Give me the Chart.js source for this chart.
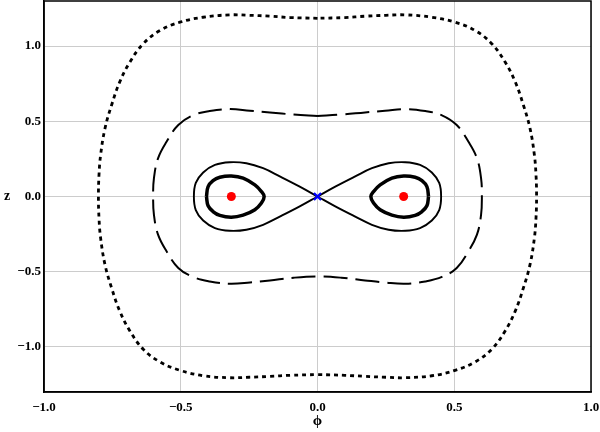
<!DOCTYPE html>
<html>
<head>
<meta charset="utf-8">
<script src="https://cdn.jsdelivr.net/npm/chart.js@4.4.0/dist/chart.umd.min.js"></script>
<style>
  body { margin: 0; background: #fff; }
  #wrap { width: 600px; height: 432px; position: relative; }
</style>
</head>
<body>
<div id="wrap"><canvas id="phaseChart"></canvas></div>
<script>
// Phase portrait: phi (x) and z (y) for each contour

// outer dotted orbit
const dottedPhi = [0, -0.10, -0.174, -0.25, -0.321, -0.418, -0.503, -0.576, -0.637, -0.686, -0.723, -0.753, -0.777, -0.793, -0.799, -0.801,
    -0.799, -0.793, -0.777, -0.753, -0.723, -0.686, -0.637, -0.576, -0.503, -0.418, -0.321, -0.25, -0.174, -0.10, 0,
    0.10, 0.174, 0.25, 0.321, 0.418, 0.503, 0.576, 0.637, 0.686, 0.723, 0.753, 0.777, 0.793, 0.799, 0.801,
    0.799, 0.793, 0.777, 0.753, 0.723, 0.686, 0.637, 0.576, 0.503, 0.418, 0.321, 0.25, 0.174, 0.10, 0];
const dottedZ = [1.185, 1.190, 1.199, 1.205, 1.208, 1.192, 1.159, 1.104, 1.016, 0.894, 0.762, 0.607, 0.453, 0.276, 0.14, 0,
    -0.14, -0.276, -0.453, -0.607, -0.762, -0.894, -1.016, -1.100, -1.156, -1.192, -1.205, -1.202, -1.196, -1.189, -1.185,
    -1.189, -1.196, -1.202, -1.205, -1.192, -1.156, -1.100, -1.016, -0.894, -0.762, -0.607, -0.453, -0.276, -0.14, 0,
    0.14, 0.276, 0.453, 0.607, 0.762, 0.894, 1.016, 1.104, 1.159, 1.192, 1.208, 1.205, 1.199, 1.190, 1.185];

// middle long-dashed orbit
const dashedPhi = [0, -0.087, -0.174, -0.247, -0.321, -0.394, -0.455, -0.509, -0.552, -0.583, -0.598, -0.601,
    -0.598, -0.583, -0.552, -0.509, -0.455, -0.394, -0.321, -0.247, -0.174, -0.087, 0,
    0.087, 0.174, 0.247, 0.321, 0.394, 0.455, 0.509, 0.552, 0.583, 0.598, 0.601,
    0.598, 0.583, 0.552, 0.509, 0.455, 0.394, 0.321, 0.247, 0.174, 0.087, 0];
const dashedZ = [0.536, 0.545, 0.559, 0.570, 0.581, 0.568, 0.540, 0.475, 0.364, 0.254, 0.122, 0,
    -0.122, -0.254, -0.364, -0.475, -0.535, -0.565, -0.580, -0.572, -0.558, -0.540, -0.532,
    -0.540, -0.558, -0.572, -0.580, -0.565, -0.535, -0.475, -0.364, -0.254, -0.122, 0,
    0.122, 0.254, 0.364, 0.475, 0.540, 0.568, 0.581, 0.570, 0.559, 0.545, 0.536];

// separatrix (figure eight through the saddle)
const sepPhi = [0, -0.065, -0.138, -0.199, -0.260, -0.321, -0.375, -0.418, -0.445, -0.452,
    -0.445, -0.418, -0.375, -0.321, -0.260, -0.199, -0.138, -0.065, 0,
    0.065, 0.138, 0.199, 0.260, 0.321, 0.375, 0.418, 0.445, 0.452,
    0.445, 0.418, 0.375, 0.321, 0.260, 0.199, 0.138, 0.065, 0];
const sepZ = [0, 0.066, 0.134, 0.188, 0.221, 0.228, 0.210, 0.160, 0.090, 0,
    -0.090, -0.160, -0.210, -0.228, -0.221, -0.188, -0.134, -0.066, 0,
    0.066, 0.134, 0.188, 0.221, 0.228, 0.210, 0.160, 0.090, 0,
    -0.090, -0.160, -0.210, -0.228, -0.221, -0.188, -0.134, -0.066, 0];

// thick orbits round the two centres
const leftLoopPhi = [-0.406, -0.400, -0.382, -0.357, -0.315, -0.272, -0.229, -0.205, -0.195, -0.205, -0.229, -0.272, -0.315, -0.357, -0.382, -0.400, -0.406];
const rightLoopPhi = [0.406, 0.400, 0.382, 0.357, 0.315, 0.272, 0.229, 0.205, 0.195, 0.205, 0.229, 0.272, 0.315, 0.357, 0.382, 0.400, 0.406];
const loopZ = [0, 0.066, 0.106, 0.128, 0.136, 0.122, 0.077, 0.033, 0, -0.044, -0.088, -0.124, -0.138, -0.126, -0.100, -0.062, 0];

// fixed points
const centrePhi = [-0.315, 0.315];
const centreZ = [0, 0];
const saddlePhi = [0];
const saddleZ = [0];

const axisTicks = [-1.0, -0.5, 0.0, 0.5, 1.0];

function pairs(xs, ys) {
    return xs.map((x, i) => ({ x: x, y: ys[i] }));
}

function fmt(v) {
    return (v < 0 ? '\u2212' : '') + Math.abs(v).toFixed(1);
}

const tickFont = { family: '"Liberation Serif", "Times New Roman", serif', size: 13, weight: 'bold' };

// frame round the plot and the upright "z" label
const framePlugin = {
    id: 'frame',
    afterDraw(chart) {
        const { ctx, chartArea } = chart;
        ctx.save();
        ctx.strokeStyle = '#000';
        ctx.lineWidth = 1.5;
        ctx.strokeRect(chartArea.left, chartArea.top, chartArea.right - chartArea.left, chartArea.bottom - chartArea.top);
        ctx.fillStyle = '#000';
        ctx.font = 'bold 14px "Liberation Serif", serif';
        ctx.textAlign = 'center';
        ctx.textBaseline = 'middle';
        ctx.fillText('z', 7, chart.scales.y.getPixelForValue(0));
        ctx.restore();
    }
};

const lineBase = {
    showLine: true,
    pointRadius: 0,
    fill: false,
    tension: 0.4,
    borderColor: '#000'
};

// no automatic padding: the plot box should sit at fixed place
function noPad(scale) {
    scale.paddingLeft = 0;
    scale.paddingRight = 0;
    scale.paddingTop = 0;
    scale.paddingBottom = 0;
}

const ctx = document.getElementById('phaseChart');
new Chart(ctx, {
    type: 'scatter',
    data: {
        datasets: [
            {
                label: 'saddle',
                data: pairs(saddlePhi, saddleZ),
                pointStyle: 'crossRot',
                pointRadius: 5,
                borderColor: '#0000ff',
                borderWidth: 2.2
            },
            {
                label: 'centres',
                data: pairs(centrePhi, centreZ),
                pointRadius: 4.5,
                backgroundColor: '#ff0000',
                borderColor: '#ff0000',
                borderWidth: 0
            },
            Object.assign({ label: 'left orbit', data: pairs(leftLoopPhi, loopZ), borderWidth: 3.5 }, lineBase),
            Object.assign({ label: 'right orbit', data: pairs(rightLoopPhi, loopZ), borderWidth: 3.5 }, lineBase),
            Object.assign({ label: 'separatrix', data: pairs(sepPhi, sepZ), borderWidth: 1.9 }, lineBase),
            Object.assign({ label: 'dashed', data: pairs(dashedPhi, dashedZ), borderWidth: 2, borderDash: [24, 8] }, lineBase),
            Object.assign({ label: 'dotted', data: pairs(dottedPhi, dottedZ), borderWidth: 2.8, borderDash: [4, 4] }, lineBase)
        ]
    },
    options: {
        responsive: true,
        maintainAspectRatio: false,
        animation: false,
        layout: { autoPadding: false, padding: { top: 1, right: 9, left: 0, bottom: 0 } },
        plugins: {
            legend: { display: false },
            tooltip: { enabled: false }
        },
        scales: {
            x: {
                type: 'linear',
                min: -1,
                max: 1,
                afterBuildTicks: (scale) => { scale.ticks = axisTicks.map(v => ({ value: v })); },
                afterFit: (scale) => { scale.height = 40; noPad(scale); },
                grid: { color: '#cccccc', lineWidth: 1, drawTicks: false },
                border: { display: true, color: '#000', width: 1.5 },
                ticks: {
                    color: '#000',
                    font: tickFont,
                    padding: 8,
                    maxRotation: 0,
                    callback: (v) => fmt(v)
                },
                title: {
                    display: true,
                    text: '\u03d5',
                    color: '#000',
                    font: { family: '"Liberation Serif", serif', size: 15, weight: 'bold' },
                    padding: { top: 0, bottom: 2 }
                }
            },
            y: {
                type: 'linear',
                min: -1.3,
                max: 1.3,
                afterBuildTicks: (scale) => { scale.ticks = axisTicks.map(v => ({ value: v })); },
                afterFit: (scale) => { scale.width = 44; noPad(scale); },
                grid: { color: '#cccccc', lineWidth: 1, drawTicks: false },
                border: { display: true, color: '#000', width: 1.5 },
                ticks: {
                    color: '#000',
                    font: tickFont,
                    padding: 3,
                    callback: (v) => fmt(v)
                }
            }
        }
    },
    plugins: [framePlugin]
});
</script>
</body>
</html>
